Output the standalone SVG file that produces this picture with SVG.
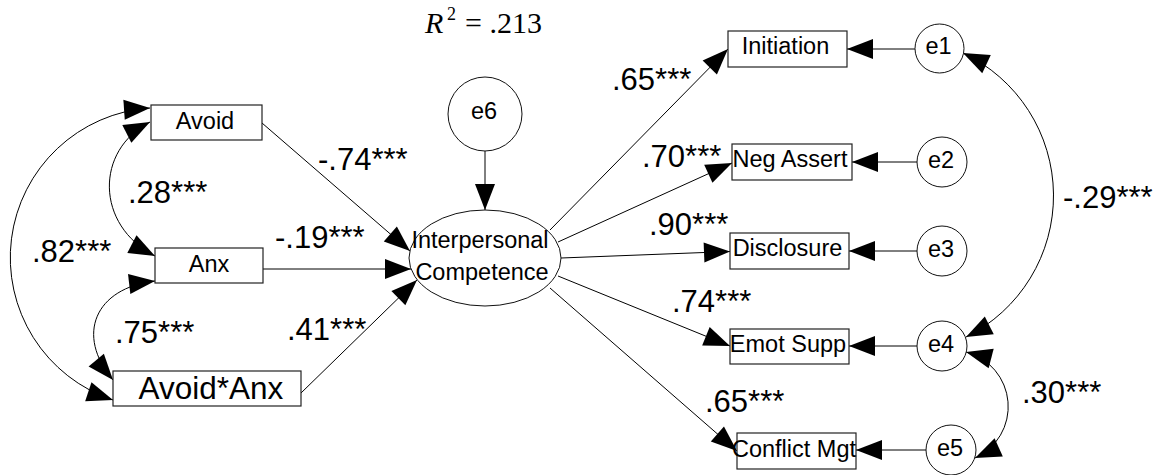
<svg xmlns="http://www.w3.org/2000/svg" width="1161" height="475" viewBox="0 0 1161 475">
<defs>
<marker id="ah" markerUnits="userSpaceOnUse" markerWidth="26" markerHeight="20" refX="26" refY="10" orient="auto-start-reverse" overflow="visible">
<path d="M0,0 L26,10 L0,20 z" fill="#000"/>
</marker>
</defs>
<style>
.box{fill:#fff;stroke:#222;stroke-width:1.2}
.circ{fill:#fff;stroke:#111;stroke-width:1}
.lbl{font-family:"Liberation Sans",Arial,sans-serif;font-size:23.5px;fill:#000;text-anchor:middle}
.coef{font-family:"Liberation Sans",Arial,sans-serif;font-size:31px;fill:#000}
.ln{fill:none;stroke:#000;stroke-width:1;marker-end:url(#ah)}
.cov{fill:none;stroke:#000;stroke-width:1;marker-start:url(#ah);marker-end:url(#ah)}
</style>
<rect width="1161" height="475" fill="#fff"/>
<text x="425" y="33" font-family="Liberation Serif,'Times New Roman',serif" font-size="30" font-style="italic">R</text>
<text x="447" y="20" font-family="Liberation Serif,'Times New Roman',serif" font-size="18">2</text>
<text x="465" y="33" font-family="Liberation Serif,'Times New Roman',serif" font-size="30">= .213</text>
<g id="connectors">
<path class="ln" d="M262,123 L410,251"/>
<path class="ln" d="M263,269 L411,269"/>
<path class="ln" d="M301,393 L417,280"/>
<path class="ln" d="M485,151 L485,210"/>
<path class="ln" d="M550,230 L728,49"/>
<path class="ln" d="M558,242 L732,163"/>
<path class="ln" d="M561,258 L730,251.5"/>
<path class="ln" d="M558,276 L730,346"/>
<path class="ln" d="M550,288 L737,451"/>
<path class="ln" d="M915,49 L847,49"/>
<path class="ln" d="M917,162 L852,162"/>
<path class="ln" d="M917,251 L849,251"/>
<path class="ln" d="M917,346 L849,346"/>
<path class="ln" d="M926,450 L856,450"/>
<path class="cov" d="M150,122 C95,150 95,225 155,256"/>
<path class="cov" d="M155,281 C95,288 75,335 113,380"/>
<path class="cov" d="M150,108 A150,150 0 0 0 113,400"/>
<path class="cov" d="M963,53 A157.8,157.8 0 0 1 966,337"/>
<path class="cov" d="M966,352 A56.4,56.4 0 0 1 975,458"/>
</g>
<g id="avoid"><rect class="box" x="151" y="105" width="111" height="35"/><text class="lbl" x="205" y="128.5">Avoid</text></g>
<g id="anx"><rect class="box" x="155" y="248" width="108" height="35"/><text class="lbl" x="209" y="271.5">Anx</text></g>
<g id="avoidanx"><rect class="box" x="113" y="371" width="188" height="35"/><text class="lbl" x="211" y="398.5" style="font-size:31.5px">Avoid*Anx</text></g>
<g id="ic"><ellipse class="circ" cx="485" cy="258" rx="76" ry="48"/><text class="lbl" x="480" y="248">Interpersonal</text><text class="lbl" x="482" y="280">Competence</text></g>
<g id="e6"><circle class="circ" cx="485" cy="114" r="37"/><text class="lbl" x="484" y="118.5">e6</text></g>
<g id="initiation"><rect class="box" x="728" y="31" width="119" height="36"/><text class="lbl" x="785.5" y="53.5">Initiation</text></g>
<g id="negassert"><rect class="box" x="732" y="144" width="120" height="36"/><text class="lbl" x="790" y="167">Neg Assert</text></g>
<g id="disclosure"><rect class="box" x="730" y="233" width="119" height="36"/><text class="lbl" x="787.5" y="256">Disclosure</text></g>
<g id="emotsupp"><rect class="box" x="730" y="329" width="119" height="35"/><text class="lbl" x="788" y="351.5">Emot Supp</text></g>
<g id="conflictmgt"><rect class="box" x="737" y="433" width="119" height="36"/><text class="lbl" x="794" y="456.5">Conflict Mgt</text></g>
<g id="e1"><circle class="circ" cx="939.5" cy="48.5" r="24.5"/><text class="lbl" x="938.5" y="53.5">e1</text></g>
<g id="e2"><circle class="circ" cx="942" cy="162" r="25"/><text class="lbl" x="941" y="168">e2</text></g>
<g id="e3"><circle class="circ" cx="942" cy="251" r="25"/><text class="lbl" x="941" y="257">e3</text></g>
<g id="e4"><circle class="circ" cx="942" cy="346" r="25"/><text class="lbl" x="941" y="352">e4</text></g>
<g id="e5"><circle class="circ" cx="951" cy="450" r="25"/><text class="lbl" x="950" y="456">e5</text></g>
<g id="coefs">
<text class="coef" x="32" y="262">.82***</text>
<text class="coef" x="128" y="203">.28***</text>
<text class="coef" x="318" y="170">-.74***</text>
<text class="coef" x="275" y="248">-.19***</text>
<text class="coef" x="115" y="343">.75***</text>
<text class="coef" x="287" y="340">.41***</text>
<text class="coef" x="612" y="90">.65***</text>
<text class="coef" x="642" y="167">.70***</text>
<text class="coef" x="649" y="235">.90***</text>
<text class="coef" x="672" y="312">.74***</text>
<text class="coef" x="705" y="412">.65***</text>
<text class="coef" x="1063" y="208">-.29***</text>
<text class="coef" x="1022" y="403">.30***</text>
</g>
</svg>
